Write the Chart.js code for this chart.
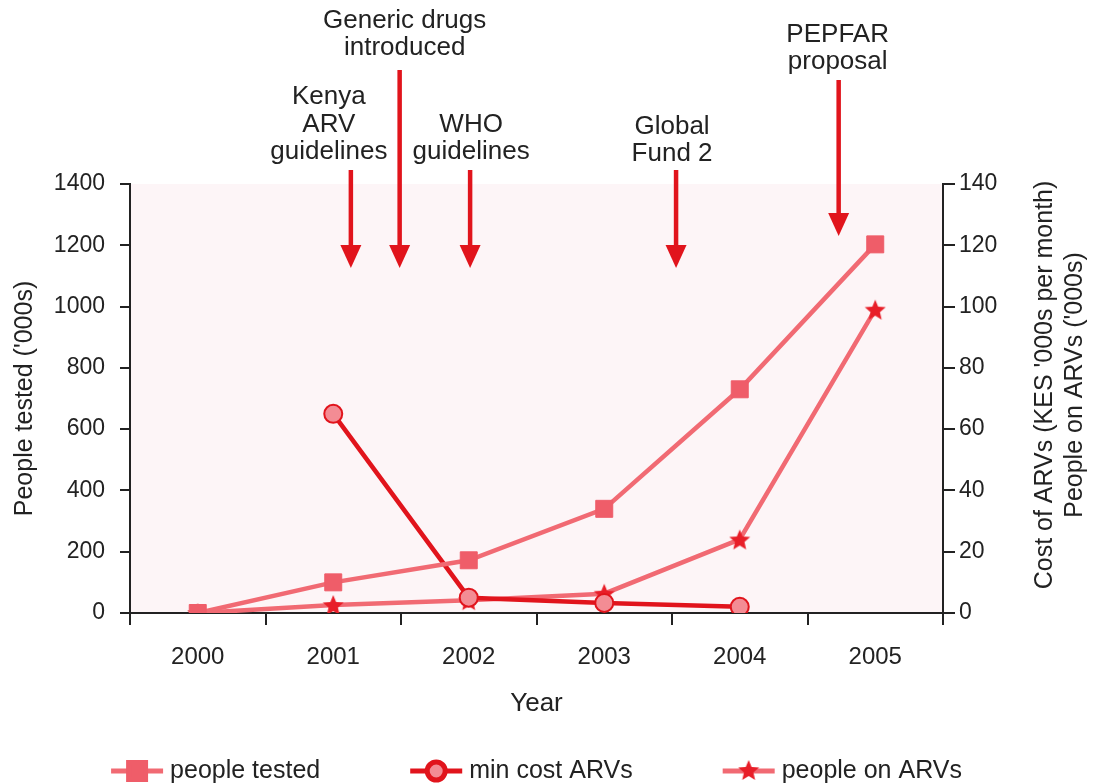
<!DOCTYPE html>
<html>
<head>
<meta charset="utf-8">
<script src="https://cdn.jsdelivr.net/npm/chart.js@4.4.1/dist/chart.umd.min.js"></script>
<style>
  html, body { margin: 0; padding: 0; background: #fff; }
  #wrap { width: 1093px; height: 783px; }
</style>
</head>
<body>
<div id="wrap"><canvas id="chart" width="1093" height="783"></canvas></div>
<script>
// ---- data ----
const years = ['2000', '2001', '2002', '2003', '2004', '2005'];
const peopleTested = [0, 100, 172, 340, 730, 1203];      // '000s, left axis
const minCostARVs = [null, 65, 5, 3.3, 2, null];         // KES '000s per month, right axis
const peopleOnARVs = [0, 2.6, 4.2, 6.3, 24, 99];         // '000s, right axis
const leftTicks = [0, 200, 400, 600, 800, 1000, 1200, 1400];
const rightTicks = [0, 20, 40, 60, 80, 100, 120, 140];

// events marked with arrows (position in year index)
const eventLabels = [
    ['Kenya', 'ARV', 'guidelines'],
    ['Generic drugs', 'introduced'],
    ['WHO', 'guidelines'],
    ['Global', 'Fund 2'],
    ['PEPFAR', 'proposal']
];
const eventAt = [1.13, 1.49, 2.01, 3.53, 4.73];

// ---- look ----
const FONT = "'Liberation Sans', Arial, Helvetica, sans-serif";
const RED = '#e1141c';
const PINK = '#f16a73';
const DARK = '#222';

// arrow/label placement (pixels): text dx, last text line y, arrow top, arrow tip
const eventLayout = [
    { dx: -22, textY: 152, top: 170, tip: 268 },
    { dx: 5,   textY: 48,  top: 70,  tip: 268 },
    { dx: 1,   textY: 152, top: 170, tip: 268 },
    { dx: -4,  textY: 154, top: 170, tip: 268 },
    { dx: -1,  textY: 62,  top: 80,  tip: 236 }
];

function makeStar(size, color) {
    const c = document.createElement('canvas');
    c.width = size; c.height = size;
    const g = c.getContext('2d');
    const cx = size / 2, cy = size / 2 + 1, R = size / 2, r = R * 0.45;
    g.beginPath();
    for (let i = 0; i < 10; i++) {
        const rad = i % 2 === 0 ? R : r;
        const a = -Math.PI / 2 + i * Math.PI / 5;
        const px = cx + rad * Math.cos(a), py = cy + rad * Math.sin(a);
        if (i === 0) g.moveTo(px, py); else g.lineTo(px, py);
    }
    g.closePath();
    g.fillStyle = color;
    g.fill();
    return c;
}
const starImg = makeStar(22, '#e81e28');

// faint pink plot background
const plotBg = {
    id: 'plotBg',
    beforeDraw(chart) {
        const { ctx, chartArea: a } = chart;
        ctx.save();
        ctx.fillStyle = '#fdf5f7';
        ctx.fillRect(a.left, a.top, a.right - a.left, a.bottom - a.top);
        ctx.restore();
    }
};

// arrows + labels, right axis title, legend
const extras = {
    id: 'extras',
    afterDraw(chart) {
        const ctx = chart.ctx;
        const xs = chart.scales.x;
        ctx.save();

        // event arrows
        eventLabels.forEach((lines, i) => {
            const L = eventLayout[i];
            const x = xs.getPixelForValue(eventAt[i]);
            ctx.strokeStyle = RED;
            ctx.fillStyle = RED;
            ctx.lineWidth = 4.5;
            ctx.beginPath();
            ctx.moveTo(x, L.top);
            ctx.lineTo(x, L.tip - 18);
            ctx.stroke();
            ctx.beginPath();
            ctx.moveTo(x - 10.5, L.tip - 23);
            ctx.lineTo(x + 10.5, L.tip - 23);
            ctx.lineTo(x, L.tip);
            ctx.closePath();
            ctx.fill();

            ctx.fillStyle = DARK;
            ctx.font = '26px ' + FONT;
            ctx.textAlign = 'center';
            ctx.textBaseline = 'middle';
            const n = lines.length;
            lines.forEach((t, j) => {
                ctx.fillText(t, x + L.dx, L.textY - (n - 1 - j) * 27.5);
            });
        });

        // right axis title, two lines reading upward
        ctx.save();
        ctx.fillStyle = DARK;
        ctx.font = '25px ' + FONT;
        ctx.textAlign = 'center';
        ctx.textBaseline = 'middle';
        ctx.translate(1045, 385);
        ctx.rotate(-Math.PI / 2);
        ctx.fillText("Cost of ARVs (KES '000s per month)", 0, 0);
        ctx.fillText("People on ARVs ('000s)", 0, 30);
        ctx.restore();

        // legend: line sample with marker, then label
        ctx.font = '25px ' + FONT;
        ctx.textBaseline = 'middle';
        ctx.textAlign = 'left';
        const sampleW = 52, gapText = 7, gapItem = 90, y = 771;
        const items = chart.data.datasets;
        const widths = items.map(d => sampleW + gapText + ctx.measureText(d.label).width);
        const total = widths.reduce((a, b) => a + b, 0) + gapItem * (items.length - 1);
        let x = (chart.chartArea.left + chart.chartArea.right) / 2 - total / 2;
        items.forEach((d, i) => {
            ctx.strokeStyle = d.borderColor;
            ctx.lineWidth = 5;
            ctx.beginPath();
            ctx.moveTo(x, y);
            ctx.lineTo(x + sampleW, y);
            ctx.stroke();
            const mx = x + sampleW / 2;
            if (d.pointStyle === starImg) {
                ctx.drawImage(starImg, mx - 11, y - 12);
            } else {
                ctx.fillStyle = d.pointBackgroundColor;
                ctx.strokeStyle = d.pointBorderColor;
                Chart.helpers.drawPoint(ctx, {
                    pointStyle: d.pointStyle, radius: d.pointRadius,
                    rotation: 0, borderWidth: d.pointBorderWidth
                }, mx, y);
            }
            ctx.fillStyle = DARK;
            ctx.fillText(d.label, x + sampleW + gapText, y);
            x += widths[i] + gapItem;
        });
        ctx.restore();
    }
};

const plain = v => String(v);

new Chart(document.getElementById('chart').getContext('2d'), {
    type: 'line',
    data: {
        labels: years,
        datasets: [
            {
                label: 'people tested',
                data: peopleTested,
                yAxisID: 'y',
                borderColor: PINK,
                borderWidth: 4.5,
                pointStyle: 'rect',
                pointRadius: 12,
                pointBackgroundColor: '#ef5d69',
                pointBorderColor: '#ef5d69',
                pointBorderWidth: 1,
                tension: 0
            },
            {
                label: 'min cost ARVs',
                data: minCostARVs,
                yAxisID: 'y2',
                borderColor: RED,
                borderWidth: 4.5,
                pointStyle: 'circle',
                pointRadius: 9,
                pointBackgroundColor: '#f38c94',
                pointBorderColor: RED,
                pointBorderWidth: 2,
                spanGaps: false,
                tension: 0
            },
            {
                label: 'people on ARVs',
                data: peopleOnARVs,
                yAxisID: 'y2',
                borderColor: PINK,
                borderWidth: 4.5,
                pointStyle: starImg,
                pointRadius: 11,
                pointBackgroundColor: '#e81e28',
                pointBorderColor: '#e81e28',
                tension: 0
            }
        ]
    },
    options: {
        responsive: false,
        animation: false,
        layout: { padding: { top: 184, bottom: 50, left: 0, right: 0 } },
        plugins: {
            legend: { display: false },
            tooltip: { enabled: false }
        },
        scales: {
            x: {
                offset: true,
                grid: { offset: true, drawOnChartArea: false, tickLength: 12, color: DARK, lineWidth: 2 },
                border: { display: true, color: DARK, width: 2 },
                ticks: { color: DARK, font: { family: FONT, size: 24 }, padding: 18 },
                title: { display: true, text: 'Year', color: DARK, font: { family: FONT, size: 26 }, padding: { top: 4, bottom: 14 } },
                afterFit: s => { s.height = 120; }
            },
            y: {
                position: 'left',
                min: 0, max: 1400,
                afterBuildTicks: s => { s.ticks = leftTicks.map(v => ({ value: v })); },
                grid: { drawOnChartArea: false, tickLength: 10, color: DARK, lineWidth: 2 },
                border: { display: true, color: DARK, width: 2 },
                ticks: { color: DARK, font: { family: FONT, size: 23 }, padding: 15, callback: plain },
                title: { display: true, text: "People tested ('000s)", color: DARK, font: { family: FONT, size: 25 }, padding: { top: 10, bottom: 0 } },
                afterFit: s => { s.width = 130; }
            },
            y2: {
                position: 'right',
                min: 0, max: 140,
                afterBuildTicks: s => { s.ticks = rightTicks.map(v => ({ value: v })); },
                grid: { drawOnChartArea: false, tickLength: 12, color: DARK, lineWidth: 2 },
                border: { display: true, color: DARK, width: 2 },
                ticks: { color: DARK, font: { family: FONT, size: 23 }, padding: 4, callback: plain },
                afterFit: s => { s.width = 150; }
            }
        }
    },
    plugins: [plotBg, extras]
});
</script>
</body>
</html>
